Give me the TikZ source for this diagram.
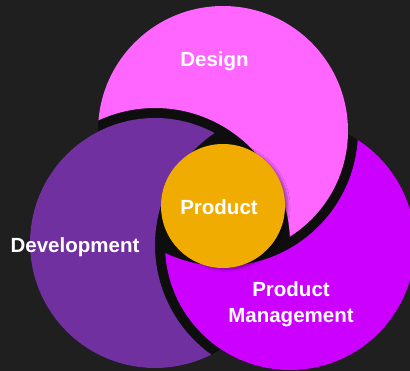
\documentclass[tikz,border=0pt]{standalone}
\usepackage{fontspec}
\setmainfont{Liberation Sans}
\usetikzlibrary{shadows.blur}
\definecolor{bgdark}{HTML}{1F1F1F}
\definecolor{gapdark}{HTML}{0E0E0E}
\definecolor{designpink}{HTML}{FF66FF}
\definecolor{develpurple}{HTML}{7030A0}
\definecolor{managemagenta}{HTML}{CC00FF}
\definecolor{productgold}{HTML}{F0AC00}
\begin{document}
\begin{tikzpicture}[x=1pt, y=-1pt]
      \tikzstyle{every node}=[text=white, font=\bfseries\fontsize{20.5}{26}\selectfont, align=center]
      \fill[bgdark] (0,0) rectangle (410,371);
      \useasboundingbox (0,0) rectangle (410,371);

      \coordinate (design) at (223,131);
      \coordinate (devel) at (155,243);
      \coordinate (manage) at (290,245);

      % dark ground under the three discs
      \foreach \c in {design, devel, manage}
      {
        \fill[gapdark] (\c) circle (125pt);
      }

      % each disc is bitten by the next one
      \foreach \c/\cut/\col in {design/devel/designpink, devel/manage/develpurple, manage/design/managemagenta}
      {
        \begin{scope}
          \clip (\c) circle (125pt);
          \fill[\col, even odd rule] (-20,-20) rectangle (430,391) (\cut) circle (135pt);
        \end{scope}
      }

      \path (223,206) node[circle, fill=productgold, minimum size=124pt, inner sep=0pt,
        blur shadow={shadow xshift=3pt, shadow yshift=-1.5pt, shadow opacity=35, shadow blur steps=6}] (product) {};

      \path (214.5,67) node[anchor=base] (designlabel) {Design};
      \path (219,215) node[anchor=base] (productlabel) {Product};
      \path (75,253) node[anchor=base] (devellabel) {Development};
      \path (291,304) node (managelabel) {Product\\Management};
    \end{tikzpicture}
\end{document}
